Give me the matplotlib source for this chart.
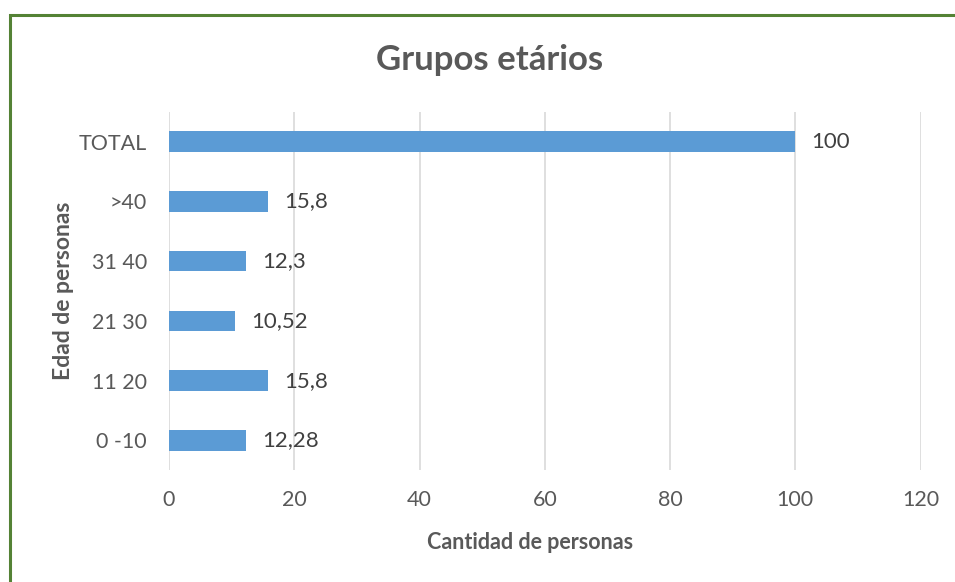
import matplotlib.pyplot as plt
from matplotlib.patches import Rectangle

# Datos
categorias = ['0 -10', '11 20', '21 30', '31 40', '>40', 'TOTAL']
valores = [12.28, 15.8, 10.52, 12.3, 15.8, 100]
etiquetas = ['12,28', '15,8', '10,52', '12,3', '15,8', '100']
ticks_x = [0, 20, 40, 60, 80, 100, 120]

plt.rcParams['font.family'] = ['Lato', 'DejaVu Sans']
gris = '#595959'

fig = plt.figure(figsize=(9.55, 5.82), dpi=100)
ax = fig.add_axes([0.177, 0.192, 0.787, 0.616])

pos = list(range(len(categorias)))
ax.barh(pos, valores, height=0.34, color='#5b9bd5', zorder=3)

for y, v, txt in zip(pos, valores, etiquetas):
    ax.annotate(txt, (v, y), xytext=(11.5, 0), textcoords='offset points',
                va='center', ha='left', fontsize=16, color='#404040')

ax.set_xlim(0, 120)
ax.set_ylim(-0.5, len(categorias) - 0.5)
ax.set_xticks(ticks_x)
ax.set_yticks(pos)
ax.set_yticklabels(categorias)
ax.tick_params(axis='both', length=0, labelsize=15.5, labelcolor=gris)
ax.tick_params(axis='x', pad=14)
ax.tick_params(axis='y', pad=16)
ax.grid(axis='x', color='#d9d9d9', linewidth=1.2, zorder=0)
for s in ax.spines.values():
    s.set_visible(False)

ax.set_xlabel('Cantidad de personas', fontsize=15.5, fontweight='bold', color=gris, labelpad=16)
ax.xaxis.label.set_x(0.481)
ax.set_ylabel('Edad de personas', fontsize=16.5, fontweight='bold', color=gris, labelpad=3)
fig.text(0.513, 0.897, 'Grupos etários', ha='center', va='center',
         fontsize=25, fontweight='bold', color=gris)

# borde verde (recortado a la derecha y abajo)
fig.patches.append(Rectangle((9.5 / 955, -0.05), 1.1, 1 - 14.5 / 582 + 0.05,
                             transform=fig.transFigure, fill=False,
                             edgecolor='#548235', linewidth=2.2))

fig.savefig('out.png', dpi=100)
